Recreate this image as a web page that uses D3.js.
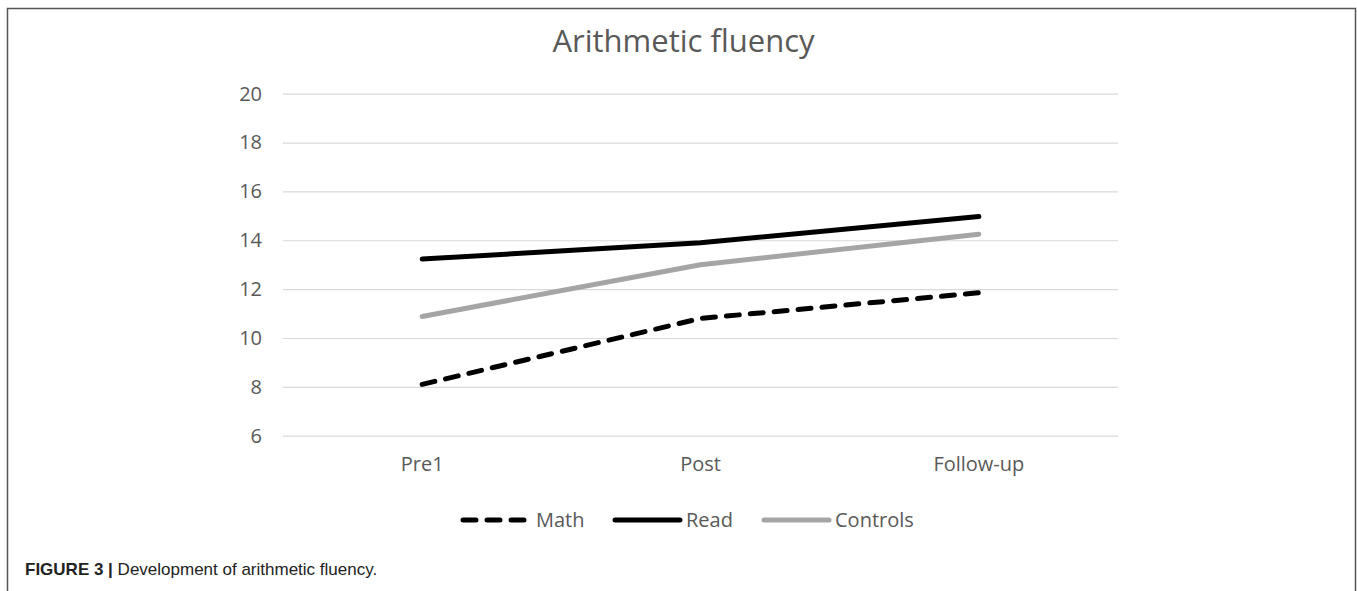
<!DOCTYPE html>
<html>
<head>
<meta charset="utf-8">
<script src="https://cdnjs.cloudflare.com/ajax/libs/d3/7.8.5/d3.min.js"></script>
<style>
  body { margin: 0; background: #fff; }
  svg { display: block; }
</style>
</head>
<body>
<div id="chart"></div>
<script>
// DATA
var categories = ['Pre1', 'Post', 'Follow-up'];
var mathValues = [8.1, 10.8, 11.85];
var readValues = [13.23, 13.9, 14.97];
var controlsValues = [10.88, 13.0, 14.25];
var yTicks = [6, 8, 10, 12, 14, 16, 18, 20];
var seriesNames = ['Math', 'Read', 'Controls'];

var width = 1357;
var height = 591;

var svg = d3.select('#chart').append('svg')
    .attr('width', width)
    .attr('height', height);

// frame round the figure (no bottom edge)
svg.append('path')
    .attr('d', 'M7.5,' + height + 'V8.5H1355.5V' + height)
    .attr('fill', 'none')
    .attr('stroke', '#555')
    .attr('stroke-width', 1.5);

// scales
var x = d3.scaleBand().domain(categories).range([283, 1118]);
var y = d3.scaleLinear().domain([6, 20]).range([435.7, 93.7]);

function cx(d){ return x(d) + x.bandwidth() / 2; }

var font = '"Open Sans", sans-serif';

// title
svg.append('text')
    .attr('x', 683.5)
    .attr('y', 52)
    .attr('text-anchor', 'middle')
    .style('font-family', font)
    .style('font-size', '31px')
    .attr('fill', '#595959')
    .text('Arithmetic fluency');

// gridlines + y axis labels
var yAxis = d3.axisLeft(y).tickValues(yTicks).tickSize(-835).tickPadding(21);
var gy = svg.append('g').attr('transform', 'translate(283,0)').call(yAxis);
gy.select('.domain').remove();
gy.selectAll('.tick line').attr('stroke', '#d9d9d9').attr('stroke-width', 1.2);
gy.selectAll('.tick text')
    .style('font-family', font)
    .style('font-size', '20px')
    .attr('fill', '#595959');

// x labels
var xAxis = d3.axisBottom(x).tickSize(0).tickPadding(0);
var gx = svg.append('g').attr('transform', 'translate(0,457)').call(xAxis);
gx.select('.domain').remove();
gx.selectAll('.tick text')
    .style('font-family', font)
    .style('font-size', '20px')
    .attr('fill', '#595959');

// lines
var line = d3.line()
    .x(function(d, i){ return cx(categories[i]); })
    .y(function(d){ return y(d); });

var series = [
    { name: 'Math', values: mathValues, color: '#000', dash: '13,11', w: 5 },
    { name: 'Read', values: readValues, color: '#000', dash: null, w: 5 },
    { name: 'Controls', values: controlsValues, color: '#a5a5a5', dash: null, w: 5 }
];

// draw controls first, then read, then math on top
[2, 1, 0].forEach(function(i){
    var s = series[i];
    svg.append('path')
        .datum(s.values)
        .attr('d', line)
        .attr('fill', 'none')
        .attr('stroke', s.color)
        .attr('stroke-width', s.w)
        .attr('stroke-linecap', 'round')
        .attr('stroke-linejoin', 'round')
        .attr('stroke-dasharray', s.dash);
});

// legend
var legendX = [463, 615, 764];
var legend = svg.append('g');
series.forEach(function(s, i){
    var lx = legendX[i];
    legend.append('line')
        .attr('x1', lx).attr('x2', lx + 65)
        .attr('y1', 520).attr('y2', 520)
        .attr('stroke', s.color)
        .attr('stroke-width', s.w)
        .attr('stroke-linecap', 'round')
        .attr('stroke-dasharray', s.dash);
    legend.append('text')
        .attr('x', lx + (i === 0 ? 73 : 71))
        .attr('y', 527)
        .style('font-family', font)
        .style('font-size', '20px')
        .attr('fill', '#595959')
        .text(seriesNames[i]);
});

// caption
var cap = svg.append('text')
    .attr('x', 25)
    .attr('y', 575)
    .style('font-family', '"Liberation Sans", Arial, sans-serif')
    .style('font-size', '17px')
    .attr('fill', '#222');
cap.append('tspan').style('font-weight', 'bold').text('FIGURE 3 | ');
cap.append('tspan').text('Development of arithmetic fluency.');
</script>
</body>
</html>
